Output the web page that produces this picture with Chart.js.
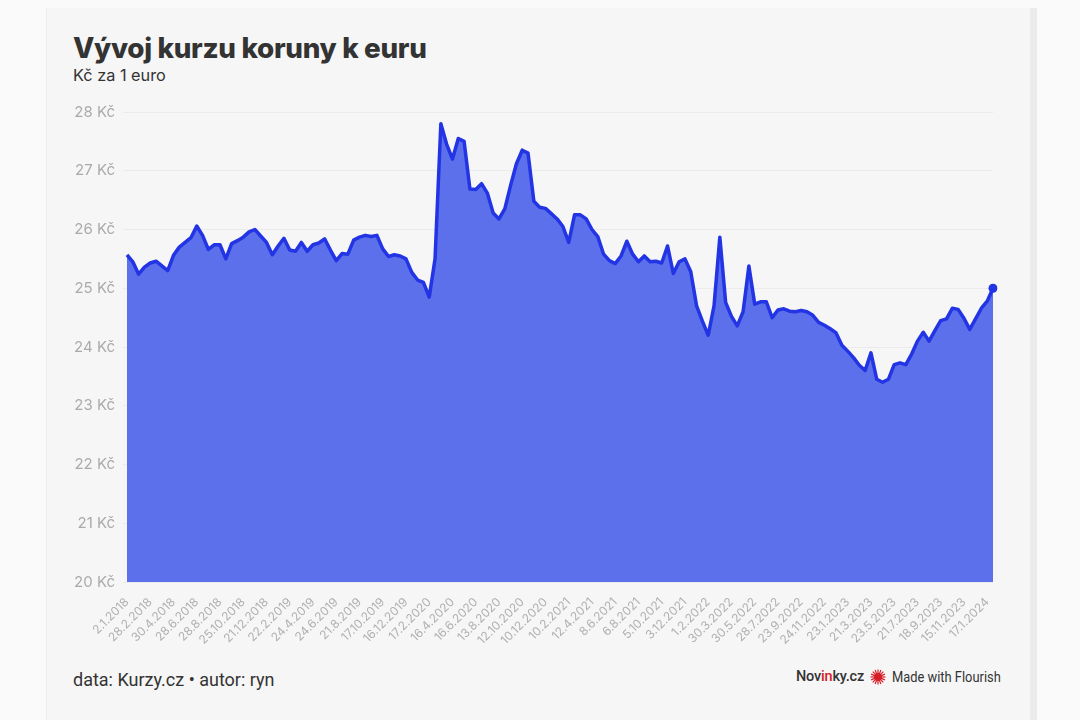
<!DOCTYPE html>
<html lang="cs">
<head>
<meta charset="utf-8">
<title>Vývoj kurzu koruny k euru</title>
<script src="https://cdn.jsdelivr.net/npm/chart.js@4.4.1/dist/chart.umd.min.js"></script>
<style>
  html, body { margin: 0; padding: 0; }
  body { width: 1080px; height: 720px; background: #fafafa; position: relative; overflow: hidden; font-family: Inter, "Noto Sans", sans-serif; }
  #card { position: absolute; left: 46px; top: 8px; width: 983px; height: 712px; background: #f6f6f6; border-right: 7px solid #ebebeb; border-left: 1px solid #efefef; }
  #title { position: absolute; left: 73px; top: 31px; font-size: 27.8px; font-weight: 800; color: #333; letter-spacing: -0.3px; }
  #subtitle { position: absolute; left: 73px; top: 65px; font-size: 16.3px; color: #333; }
  #chartBox { position: absolute; left: 60px; top: 95px; width: 950px; height: 560px; }
  #source { position: absolute; left: 73px; top: 669px; font-size: 18px; color: #333; font-family: Roboto, "Noto Sans", sans-serif; }
  #brand { position: absolute; left: 796px; top: 668px; display: flex; align-items: center; gap: 6px; color: #333; }
  #brand .nov { font-family: Roboto, sans-serif; font-size: 14.5px; font-weight: 500; letter-spacing: -0.2px; }
  #brand .nov b { color: #d4202a; font-weight: 500; }
  #brand .fl { font-family: Roboto, sans-serif; font-size: 14px; display: inline-block; transform: scaleX(0.92); transform-origin: left center; }
</style>
</head>
<body>
<div id="card"></div>
<div id="title">Vývoj kurzu koruny k euru</div>
<div id="subtitle">Kč za 1 euro</div>
<div id="chartBox"><canvas id="rateChart"></canvas></div>
<div id="source">data: Kurzy.cz • autor: ryn</div>
<div id="brand">
  <span class="nov">Nov<b>in</b>ky.cz</span>
  <svg width="16" height="16" viewBox="-8 -8 16 16"><g fill="#d4202a"><circle r="4"/><g stroke="#d4202a" stroke-width="1.2"><line x1="0" y1="-7.5" x2="0" y2="7.5"/><line x1="-7.5" y1="0" x2="7.5" y2="0"/><line x1="-5.3" y1="-5.3" x2="5.3" y2="5.3"/><line x1="-5.3" y1="5.3" x2="5.3" y2="-5.3"/><line x1="-2.9" y1="-6.9" x2="2.9" y2="6.9"/><line x1="-6.9" y1="-2.9" x2="6.9" y2="2.9"/><line x1="-2.9" y1="6.9" x2="2.9" y2="-6.9"/><line x1="-6.9" y1="2.9" x2="6.9" y2="-2.9"/></g></g></svg>
  <span class="fl">Made with Flourish</span>
</div>
<script>
// tick labels shown under the axis, one every 4 samples
const tickLabels = ['2.1.2018', '28.2.2018', '30.4.2018', '28.6.2018', '28.8.2018', '25.10.2018',
  '21.12.2018', '22.2.2019', '24.4.2019', '24.6.2019', '21.8.2019', '17.10.2019', '16.12.2019',
  '17.2.2020', '16.4.2020', '16.6.2020', '13.8.2020', '12.10.2020', '10.12.2020', '10.2.2021',
  '12.4.2021', '8.6.2021', '6.8.2021', '5.10.2021', '3.12.2021', '1.2.2022', '30.3.2022',
  '30.5.2022', '28.7.2022', '23.9.2022', '24.11.2022', '23.1.2023', '21.3.2023', '23.5.2023',
  '21.7.2023', '18.9.2023', '15.11.2023', '17.1.2024'];

const samplesPerTick = 4;

// CZK per EUR
const rates = [
  25.57, 25.45, 25.24, 25.36, 25.43, 25.46, 25.38, 25.30, 25.56, 25.70,
  25.78, 25.86, 26.06, 25.90, 25.66, 25.74, 25.74, 25.50, 25.76, 25.81,
  25.87, 25.96, 26.00, 25.89, 25.78, 25.57, 25.72, 25.85, 25.65, 25.63,
  25.78, 25.63, 25.74, 25.77, 25.84, 25.65, 25.47, 25.59, 25.58, 25.82,
  25.87, 25.90, 25.88, 25.90, 25.67, 25.54, 25.57, 25.55, 25.50, 25.27,
  25.14, 25.10, 24.85, 25.50, 27.80, 27.45, 27.20, 27.55, 27.50, 26.69,
  26.68, 26.78, 26.62, 26.28, 26.18, 26.35, 26.75, 27.12, 27.35, 27.30,
  26.48, 26.38, 26.36, 26.27, 26.18, 26.05, 25.78, 26.25, 26.25, 26.18,
  26.00, 25.88, 25.58, 25.47, 25.42, 25.55, 25.80, 25.58, 25.45, 25.55,
  25.45, 25.46, 25.43, 25.72, 25.25, 25.45, 25.50, 25.28, 24.70, 24.44,
  24.20, 24.70, 25.87, 24.76, 24.52, 24.36, 24.60, 25.38, 24.73, 24.77,
  24.77, 24.50, 24.63, 24.65, 24.61, 24.60, 24.62, 24.60, 24.54, 24.42,
  24.37, 24.31, 24.24, 24.03, 23.93, 23.82, 23.69, 23.60, 23.90, 23.45,
  23.40, 23.45, 23.70, 23.73, 23.70, 23.88, 24.10, 24.25, 24.10, 24.28,
  24.45, 24.48, 24.66, 24.64, 24.49, 24.30, 24.48, 24.66, 24.78, 25.00
];

const yMin = 20, yMax = 28;

// category per sample; only every 4th one gets a date
const labels = rates.map((_, i) => (i % samplesPerTick === 0 ? tickLabels[i / samplesPerTick] : ''));
const lastIndex = rates.length - 1;

const ctx = document.getElementById('rateChart').getContext('2d');
new Chart(ctx, {
  type: 'line',
  data: {
    labels: labels,
    datasets: [{
      data: rates,
      borderColor: 'rgb(34, 52, 228)',
      backgroundColor: 'rgb(92, 112, 235)',
      borderWidth: 3.5,
      borderJoinStyle: 'round',
      fill: 'start',
      tension: 0,
      pointRadius: c => (c.dataIndex === lastIndex ? 4.5 : 0),
      pointBackgroundColor: 'rgb(34, 52, 228)',
      pointBorderWidth: 0
    }]
  },
  options: {
    responsive: true,
    maintainAspectRatio: false,
    animation: false,
    layout: { padding: { top: 10, right: 17 } },
    plugins: { legend: { display: false }, tooltip: { enabled: false } },
    scales: {
      x: {
        grid: { display: false },
        border: { display: false },
        afterFit: s => { s.height = 73; },
        ticks: {
          autoSkip: false,
          minRotation: 45,
          maxRotation: 45,
          padding: 5,
          color: '#b0b0b0',
          font: { family: 'Inter', size: 12 },
          callback: function (val, i) {
            const l = this.getLabelForValue(val);
            return l === '' ? null : l;
          }
        }
      },
      y: {
        min: yMin,
        max: yMax,
        afterFit: s => { s.width = 67; },
        border: { display: false },
        grid: { color: '#ebebeb', tickLength: 4 },
        ticks: {
          stepSize: 1,
          padding: 8,
          color: '#aaaaaa',
          font: { family: 'Inter', size: 15 },
          callback: v => v + ' Kč'
        }
      }
    }
  }
});
</script>
</body>
</html>
